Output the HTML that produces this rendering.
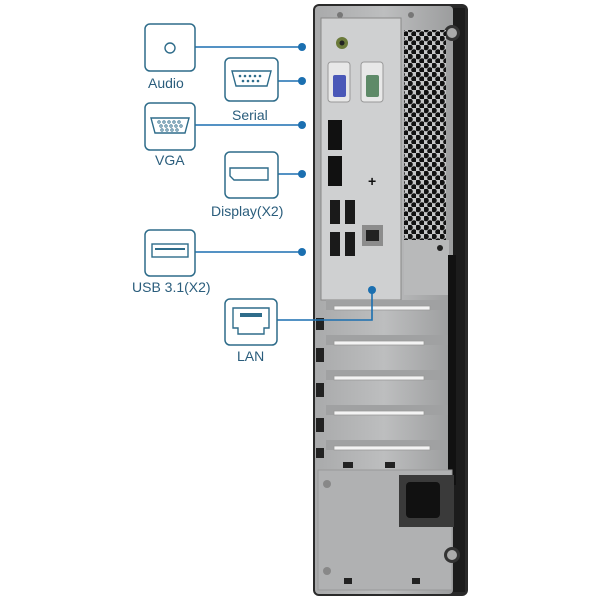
<!DOCTYPE html>
<html><head><style>
body{margin:0;background:#fff;}
svg{display:block}
text{font-family:"Liberation Sans",sans-serif;fill:#2a5d7c;font-size:14px}
</style></head><body>
<svg width="600" height="600" viewBox="0 0 600 600">
<defs>
<pattern id="hex" width="8" height="9" patternUnits="userSpaceOnUse">
<rect width="8" height="9" fill="#c4c5c6"/>
<circle cx="2" cy="2.5" r="2.8" fill="#111"/>
<circle cx="6" cy="7" r="2.8" fill="#111"/>
</pattern>
<linearGradient id="body" x1="0" x2="1">
<stop offset="0" stop-color="#a9aaab"/><stop offset="0.5" stop-color="#bdbebf"/><stop offset="1" stop-color="#9c9d9e"/>
</linearGradient>
</defs>
<rect x="313" y="4" width="155" height="592" rx="6" fill="#2a2a2a"/>
<rect x="315" y="6" width="138" height="588" rx="4" fill="url(#body)"/>
<rect x="453" y="8" width="12" height="584" fill="#1c1c1c"/>
<circle cx="340" cy="15" r="3" fill="#777"/><circle cx="411" cy="15" r="3" fill="#777"/>
<circle cx="452" cy="33" r="8" fill="#333"/><circle cx="452" cy="33" r="5" fill="#aaa"/>
<rect x="321" y="18" width="80" height="282" fill="#cfd0d1" stroke="#888" stroke-width="1"/>
<circle cx="342" cy="43" r="6" fill="#6b7a3a"/><circle cx="342" cy="43" r="2.5" fill="#222"/>
<rect x="328" y="62" width="22" height="40" rx="3" fill="#e8e8e8" stroke="#999"/>
<rect x="333" y="75" width="13" height="22" rx="2" fill="#4a58b8"/>
<rect x="361" y="62" width="22" height="40" rx="3" fill="#e8e8e8" stroke="#999"/>
<rect x="366" y="75" width="13" height="22" rx="2" fill="#5e8a68"/>
<rect x="328" y="120" width="14" height="30" fill="#111"/>
<rect x="328" y="156" width="14" height="30" fill="#111"/>
<text x="368" y="186" style="font-size:14px;fill:#111;font-weight:bold">+</text>
<rect x="330" y="200" width="10" height="24" fill="#1a1a1a"/><rect x="345" y="200" width="10" height="24" fill="#1a1a1a"/>
<rect x="330" y="232" width="10" height="24" fill="#1a1a1a"/><rect x="345" y="232" width="10" height="24" fill="#1a1a1a"/>
<rect x="362" y="225" width="21" height="21" fill="#8c8c8c"/><rect x="366" y="230" width="13" height="11" fill="#222"/>
<rect x="404" y="30" width="42" height="210" fill="url(#hex)"/>
<rect x="404" y="240" width="45" height="55" fill="#b8b9ba"/>
<circle cx="440" cy="248" r="3" fill="#222"/>
<rect x="448" y="255" width="8" height="230" fill="#111"/>
<g fill="#a0a1a2">
<rect x="326" y="300" width="122" height="10"/>
<rect x="326" y="335" width="122" height="10"/>
<rect x="326" y="370" width="122" height="10"/>
<rect x="326" y="405" width="122" height="10"/>
<rect x="326" y="440" width="122" height="10"/>
</g>
<g fill="#f4f4f4" stroke="#999" stroke-width="0.8">
<rect x="334" y="306" width="96" height="4"/>
<rect x="334" y="341" width="90" height="4"/>
<rect x="334" y="376" width="90" height="4"/>
<rect x="334" y="411" width="90" height="4"/>
<rect x="334" y="446" width="96" height="4"/>
</g>
<g fill="#222">
<rect x="316" y="318" width="8" height="12"/><rect x="316" y="348" width="8" height="14"/>
<rect x="316" y="383" width="8" height="14"/><rect x="316" y="418" width="8" height="14"/>
<rect x="316" y="448" width="8" height="10"/>
<rect x="343" y="462" width="10" height="6"/><rect x="385" y="462" width="10" height="6"/>
</g>
<rect x="318" y="470" width="134" height="120" fill="#b0b1b2" stroke="#999"/>
<rect x="399" y="475" width="55" height="52" fill="#3a3a3a"/>
<rect x="406" y="482" width="34" height="36" rx="4" fill="#111"/>
<circle cx="327" cy="484" r="4" fill="#888"/><circle cx="327" cy="571" r="4" fill="#888"/>
<circle cx="452" cy="555" r="8" fill="#333"/><circle cx="452" cy="555" r="5" fill="#aaa"/>
<rect x="344" y="578" width="8" height="6" fill="#222"/><rect x="412" y="578" width="8" height="6" fill="#222"/>
<g stroke="#1b6fb0" stroke-width="1.6" fill="none">
<line x1="195" y1="47" x2="302" y2="47"/>
<line x1="278" y1="81" x2="302" y2="81"/>
<line x1="195" y1="125" x2="302" y2="125"/>
<line x1="278" y1="174" x2="302" y2="174"/>
<line x1="195" y1="252" x2="302" y2="252"/>
<polyline points="277,320 372,320 372,290"/>
</g>
<g fill="#1b6fb0">
<circle cx="302" cy="47" r="4"/><circle cx="302" cy="81" r="4"/><circle cx="302" cy="125" r="4"/>
<circle cx="302" cy="174" r="4"/><circle cx="302" cy="252" r="4"/><circle cx="372" cy="290" r="4"/>
</g>
<g stroke="#2e6c8a" stroke-width="1.5" fill="#fff">
<rect x="145" y="24" width="50" height="47" rx="5"/>
<rect x="225" y="58" width="53" height="43" rx="5"/>
<rect x="145" y="103" width="50" height="47" rx="5"/>
<rect x="225" y="152" width="53" height="46" rx="5"/>
<rect x="145" y="230" width="50" height="46" rx="5"/>
<rect x="225" y="299" width="52" height="46" rx="5"/>
</g>
<g stroke="#2e6c8a" stroke-width="1.4" fill="none">
<circle cx="170" cy="48" r="5"/>
<path d="M232,71 h39 l-4,15 h-31 z"/>
<path d="M151,118 h38 l-4,15 h-30 z"/>
<path d="M230,168 h38 v12 h-34 l-4,-4 z"/>
<rect x="152" y="244" width="36" height="13"/>
<path d="M233,308 h36 v20 h-5 v6 h-26 v-6 h-5 z"/>
</g>
<g fill="#2e6c8a">
<circle cx="240" cy="76" r="1.3"/><circle cx="245" cy="76" r="1.3"/><circle cx="250" cy="76" r="1.3"/><circle cx="255" cy="76" r="1.3"/><circle cx="260" cy="76" r="1.3"/>
<circle cx="243" cy="81" r="1.3"/><circle cx="248" cy="81" r="1.3"/><circle cx="253" cy="81" r="1.3"/><circle cx="258" cy="81" r="1.3"/>
<rect x="240" y="313" width="22" height="4"/>
<rect x="155" y="248" width="30" height="2"/>
</g>
<g stroke="#2e6c8a" stroke-width="0.8" fill="none">
<circle cx="159" cy="122" r="1.2"/><circle cx="164" cy="122" r="1.2"/><circle cx="169" cy="122" r="1.2"/><circle cx="174" cy="122" r="1.2"/><circle cx="179" cy="122" r="1.2"/>
<circle cx="161" cy="126" r="1.2"/><circle cx="166" cy="126" r="1.2"/><circle cx="171" cy="126" r="1.2"/><circle cx="176" cy="126" r="1.2"/><circle cx="181" cy="126" r="1.2"/>
<circle cx="162" cy="130" r="1.2"/><circle cx="167" cy="130" r="1.2"/><circle cx="172" cy="130" r="1.2"/><circle cx="177" cy="130" r="1.2"/>
</g>
<text x="148" y="88">Audio</text>
<text x="232" y="120">Serial</text>
<text x="155" y="165">VGA</text>
<text x="211" y="216">Display(X2)</text>
<text x="132" y="292">USB 3.1(X2)</text>
<text x="237" y="361">LAN</text>
</svg>
</body></html>
